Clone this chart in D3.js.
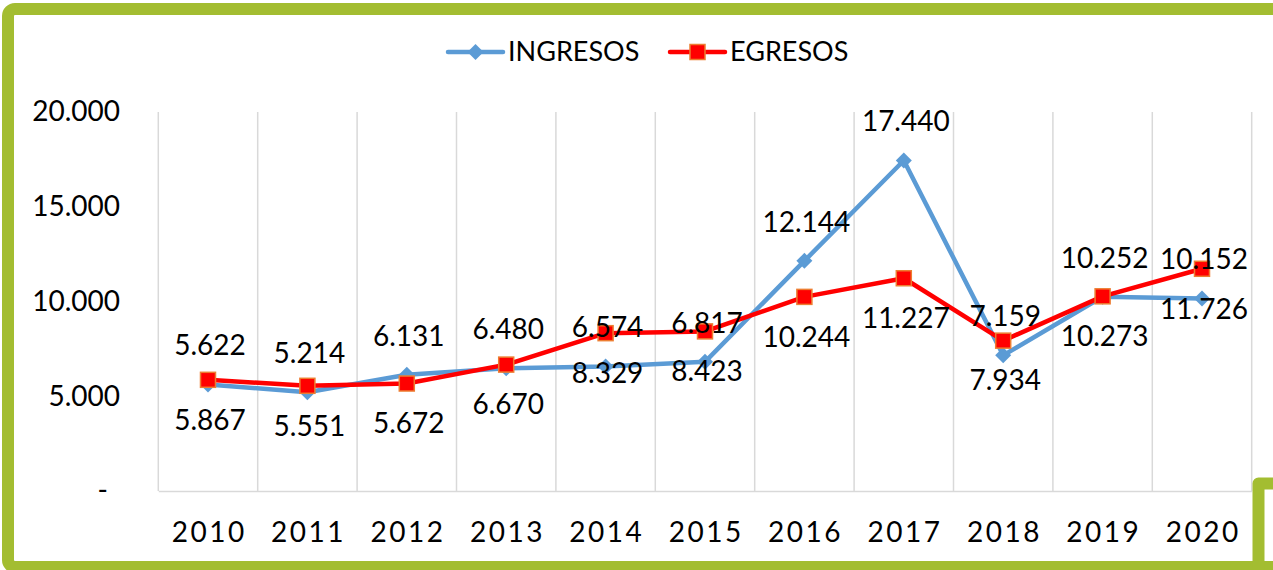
<!DOCTYPE html>
<html>
<head>
<meta charset="utf-8">
<script src="https://cdn.jsdelivr.net/npm/d3@7"></script>
<style>
  html, body { margin: 0; padding: 0; background: #fff; }
  svg { display: block; font-family: Lato, "Open Sans", sans-serif; }
</style>
</head>
<body>
<svg id="chart" width="1273" height="570"></svg>
<script>
const years = ["2010","2011","2012","2013","2014","2015","2016","2017","2018","2019","2020"];
const ingresos = [5622, 5214, 6131, 6480, 6574, 6817, 12144, 17440, 7159, 10252, 10152];
const egresos  = [5867, 5551, 5672, 6670, 8329, 8423, 10244, 11227, 7934, 10273, 11726];
const yTicks = [0, 5000, 10000, 15000, 20000];
const seriesNames = ["INGRESOS", "EGRESOS"];

const svg = d3.select("#chart");
const W = 1273, H = 570;
const green = "#A3BD31";
const blue = "#5B9BD5";
const red = "#FF0000";
const orange = "#ED7D31";

svg.append("rect").attr("width", W).attr("height", H).attr("fill", "#fff");

const loc = d3.formatLocale({decimal: ",", thousands: ".", grouping: [3], currency: ["", ""]});
const fmt = loc.format(",d");

const x = d3.scaleBand().domain(years).range([158.3, 1251.7]).padding(0);
const y = d3.scaleLinear().domain([0, 20000]).range([491, 112]);
const cx = d => x(d) + x.bandwidth() / 2;

// vertical gridlines
const edges = years.map(d => x(d)).concat([x.range()[1]]);
svg.append("g").selectAll("line").data(edges).join("line")
  .attr("x1", d => d).attr("x2", d => d)
  .attr("y1", y(20000)).attr("y2", y(0))
  .attr("stroke", "#D9D9D9").attr("stroke-width", 1.5);

// x axis
const xAxis = svg.append("g").attr("transform", `translate(0,${y(0)})`)
  .call(d3.axisBottom(x).tickSize(0).tickPadding(0));
xAxis.select(".domain").attr("stroke", "#D9D9D9").attr("stroke-width", 1.5);
xAxis.selectAll("text")
  .attr("y", 41).attr("dy", "0.35em")
  .attr("font-size", 28).attr("font-family", "Lato")
  .attr("letter-spacing", "2.5px").attr("fill", "#000")
  .attr("dx", 1.2);

// y axis
const yAxis = svg.append("g").attr("transform", "translate(120,0)")
  .call(d3.axisLeft(y).tickValues(yTicks).tickSize(0).tickPadding(0)
    .tickFormat(d => d === 0 ? "-" : fmt(d)));
yAxis.select(".domain").remove();
yAxis.selectAll("text")
  .attr("font-size", 28).attr("font-family", "Lato").attr("fill", "#000")
  .attr("x", d => d === 0 ? -12 : 0).attr("dy", "0.32em");

// lines
const lineGen = d3.line().x((d, i) => cx(years[i])).y(d => y(d));
svg.append("path").datum(ingresos).attr("d", lineGen)
  .attr("fill", "none").attr("stroke", blue).attr("stroke-width", 4.5)
  .attr("stroke-linejoin", "round").attr("stroke-linecap", "round");
svg.append("g").selectAll("path").data(ingresos).join("path")
  .attr("transform", (d, i) => `translate(${cx(years[i])},${y(d)})`)
  .attr("d", "M0,-8L8,0L0,8L-8,0Z").attr("fill", blue);

svg.append("path").datum(egresos).attr("d", lineGen)
  .attr("fill", "none").attr("stroke", red).attr("stroke-width", 4.5)
  .attr("stroke-linejoin", "round").attr("stroke-linecap", "round");
svg.append("g").selectAll("rect").data(egresos).join("rect")
  .attr("x", (d, i) => cx(years[i]) - 7.5).attr("y", d => y(d) - 7.5)
  .attr("width", 15).attr("height", 15)
  .attr("fill", red).attr("stroke", orange).attr("stroke-width", 1.5);

// data labels
svg.append("g").selectAll("text").data(ingresos).join("text")
  .attr("x", (d, i) => cx(years[i]) + 2).attr("y", d => y(d) - 39)
  .attr("dy", "0.35em").attr("text-anchor", "middle")
  .attr("font-size", 28).attr("fill", "#000").text(d => fmt(d));
svg.append("g").selectAll("text").data(egresos).join("text")
  .attr("x", (d, i) => cx(years[i]) + 2).attr("y", d => y(d) + 40)
  .attr("dy", "0.35em").attr("text-anchor", "middle")
  .attr("font-size", 28).attr("fill", "#000").text(d => fmt(d));

// legend
const leg = svg.append("g");
const legItems = [
  {name: seriesNames[0], color: blue, x0: 448, type: "diamond"},
  {name: seriesNames[1], color: red, x0: 670, type: "square"}
];
legItems.forEach(it => {
  leg.append("line").attr("x1", it.x0).attr("x2", it.x0 + 55)
    .attr("y1", 52).attr("y2", 52).attr("stroke", it.color).attr("stroke-width", 4.5)
    .attr("stroke-linecap", "round");
  if (it.type === "diamond") {
    leg.append("path").attr("transform", `translate(${it.x0 + 27.5},52)`)
      .attr("d", "M0,-8L8,0L0,8L-8,0Z").attr("fill", it.color);
  } else {
    leg.append("rect").attr("x", it.x0 + 20).attr("y", 44.5).attr("width", 15).attr("height", 15)
      .attr("fill", red).attr("stroke", orange).attr("stroke-width", 1.5);
  }
  leg.append("text").attr("x", it.x0 + 60).attr("y", 52).attr("dy", "0.35em")
    .attr("font-size", 27).attr("fill", "#000").text(it.name);
});

// green frame
svg.append("rect").attr("x", 8).attr("y", 9).attr("width", 1400).attr("height", 558)
  .attr("rx", 7).attr("fill", "none").attr("stroke", green).attr("stroke-width", 12);
svg.append("path").attr("d", "M1258.5,600V483.5H1300")
  .attr("fill", "none").attr("stroke", green).attr("stroke-width", 12)
  .attr("stroke-linejoin", "round");
</script>
</body>
</html>
